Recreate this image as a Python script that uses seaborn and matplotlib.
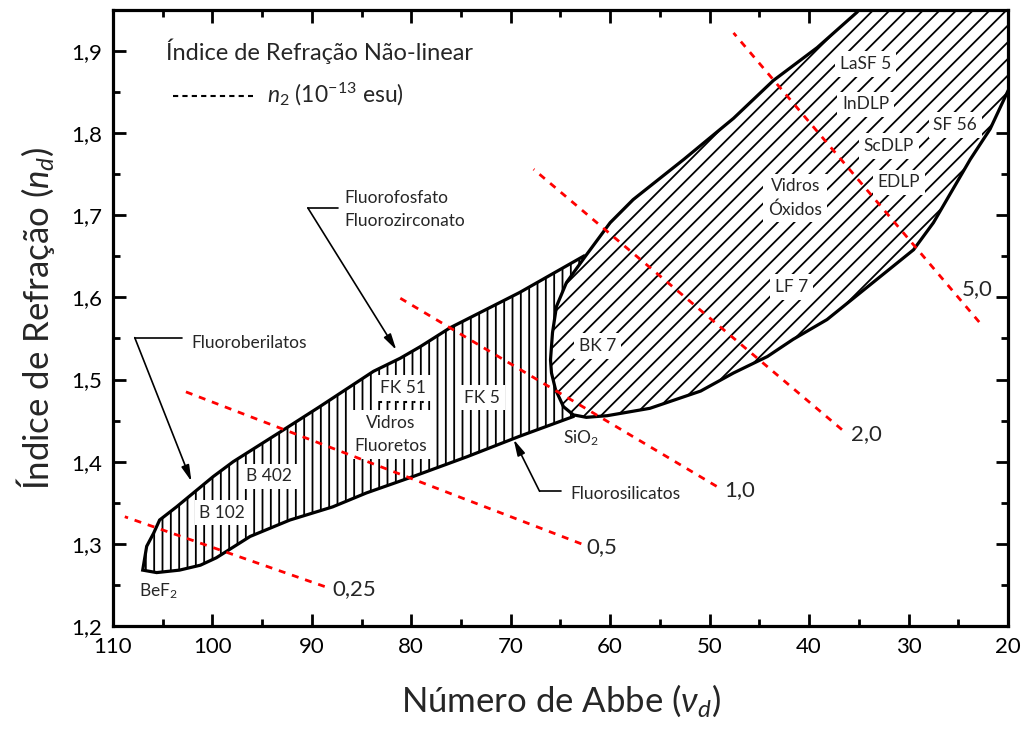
import matplotlib
matplotlib.use("Agg")
import matplotlib.pyplot as plt
import seaborn as sns
import numpy as np
import pandas as pd
from matplotlib.ticker import MultipleLocator

# contorno da regiao dos vidros fluoretos (numero de Abbe, n_d)
fluor_abbe = [105.3, 103.6, 101.9, 99.9, 97.9, 93.2, 89.2, 83.8, 81.1, 79.1, 76.1, 69.1, 62.7,
              62.0, 62.5, 63.7,
              69.1, 74.4, 79.8, 84.5, 87.9, 92.2, 96.2, 99.6, 101.2, 103.3, 105.6, 107.0,
              106.6, 105.9]
fluor_nd = [1.329, 1.345, 1.362, 1.382, 1.400, 1.436, 1.467, 1.510, 1.526, 1.540, 1.563, 1.606, 1.650,
            1.600, 1.500, 1.455,
            1.431, 1.406, 1.382, 1.362, 1.345, 1.329, 1.309, 1.283, 1.274, 1.268, 1.265, 1.268,
            1.297, 1.313]

# contorno da regiao dos vidros oxidos
oxide_abbe = [33.5, 35.2, 39.2, 43.6, 47.6, 52.6, 57.7, 60.0, 62.5, 64.4, 65.4, 65.8, 66.0,
              65.9, 65.5, 64.7, 63.7, 62.4, 60.3, 56.0, 50.9, 47.6, 44.2, 41.6, 38.2,
              29.5, 27.5, 23.8, 21.8, 20.1, 18.5, 15.0, 15.0]
oxide_nd = [1.970, 1.947, 1.904, 1.864, 1.818, 1.768, 1.719, 1.691, 1.650, 1.618, 1.589, 1.557,
            1.524, 1.508, 1.488, 1.467, 1.457, 1.454, 1.456, 1.465, 1.486, 1.508, 1.528, 1.549,
            1.573, 1.658, 1.691, 1.768, 1.805, 1.849, 1.890, 1.990, 2.050]

# linhas de n2 constante (10^-13 esu)
n2_labels = ["0,25", "0,5", "1,0", "2,0", "5,0"]
n2_abbe_start = [108.8, 103.3, 81.1, 67.7, 47.6]
n2_nd_start = [1.333, 1.488, 1.599, 1.756, 1.922]
n2_abbe_end = [88.7, 62.9, 49.3, 36.7, 22.9]
n2_nd_end = [1.248, 1.300, 1.370, 1.439, 1.570]
n2_label_abbe = [85.7, 60.8, 47.0, 34.2, 23.1]
n2_label_nd = [1.245, 1.296, 1.365, 1.433, 1.610]

# nomes dos vidros
glass_names = ["LaSF 5", "InDLP", "ScDLP", "SF 56", "EDLP", "Vidros\nÓxidos", "LF 7", "BK 7",
               "FK 5", "FK 51", "Vidros\nFluoretos", "B 402", "B 102"]
glass_abbe = [34.3, 34.3, 32.0, 25.3, 31.0, 41.4, 41.8, 61.3, 72.9, 80.8, 82.1, 94.3, 99.0]
glass_nd = [1.884, 1.835, 1.784, 1.810, 1.740, 1.721, 1.613, 1.541, 1.478, 1.490, 1.433, 1.382, 1.338]

x_ticks = [110, 100, 90, 80, 70, 60, 50, 40, 30, 20]
x_tick_labels = ["110", "100", "90", "80", "70", "60", "50", "40", "30", "20"]
y_ticks = [1.2, 1.3, 1.4, 1.5, 1.6, 1.7, 1.8, 1.9]
y_tick_labels = ["1,2", "1,3", "1,4", "1,5", "1,6", "1,7", "1,8", "1,9"]

sns.set_theme(style="ticks")
plt.rcParams["font.family"] = ["Lato", "DejaVu Sans"]
plt.rcParams["mathtext.fontset"] = "custom"
plt.rcParams["mathtext.rm"] = "Lato"
plt.rcParams["mathtext.it"] = "Lato:italic"
plt.rcParams["hatch.linewidth"] = 1.3

fig = plt.figure(figsize=(10.26, 7.33), dpi=100)
ax = fig.add_axes([0.110, 0.146, 0.8725, 0.8405])

# regioes hachuradas
ax.fill(fluor_abbe, fluor_nd, facecolor="white", edgecolor="black", hatch="||",
        linewidth=2.3, zorder=2)
ax.fill(oxide_abbe, oxide_nd, facecolor="white", edgecolor="black", hatch="//",
        linewidth=2.3, zorder=3)

# linhas de n2
for i in range(len(n2_labels)):
    seg = pd.DataFrame({"abbe": [n2_abbe_start[i], n2_abbe_end[i]],
                        "nd": [n2_nd_start[i], n2_nd_end[i]]})
    sns.lineplot(data=seg, x="abbe", y="nd", ax=ax, color="red", linewidth=2,
                 dashes=False, linestyle=(0, (2.5, 2.5)), zorder=5)
    ax.text(n2_label_abbe[i], n2_label_nd[i], n2_labels[i], fontsize=16,
            ha="center", va="center", zorder=6)

for name, xa, yn in zip(glass_names, glass_abbe, glass_nd):
    ax.text(xa, yn, name, fontsize=12.5, ha="center", va="center", linespacing=1.5,
            bbox=dict(facecolor="white", edgecolor="none", pad=3.5), zorder=4)

ax.plot([83.1, 78.4], [1.473, 1.473], color="black", linestyle=(0, (1, 3)),
        linewidth=1.5, zorder=5)
ax.text(105.4, 1.242, "BeF$_2$", fontsize=12.5, ha="center", va="center")
ax.text(62.9, 1.429, "SiO$_2$", fontsize=12.5, ha="center", va="center", zorder=6)

# setas
arrow = dict(arrowstyle="-|>,head_length=0.8,head_width=0.2", color="black", lw=1.2,
             shrinkA=0, shrinkB=0)
ax.plot([103.0, 107.8], [1.551, 1.551], color="black", lw=1.2)
ax.annotate("", xy=(102.1, 1.376), xytext=(107.8, 1.551), arrowprops=arrow)
ax.text(102.1, 1.545, "Fluoroberilatos", fontsize=12.5, ha="left", va="center")

ax.plot([87.4, 90.4], [1.709, 1.709], color="black", lw=1.2)
ax.annotate("", xy=(81.5, 1.536), xytext=(90.4, 1.709), arrowprops=arrow)
ax.text(86.7, 1.707, "Fluorofosfato\nFluorozirconato", fontsize=12.5, ha="left",
        va="center", linespacing=1.55)

ax.plot([64.9, 67.1], [1.364, 1.364], color="black", lw=1.2)
ax.annotate("", xy=(69.7, 1.427), xytext=(67.1, 1.364), arrowprops=arrow)
ax.text(64.0, 1.361, "Fluorosilicatos", fontsize=12.5, ha="left", va="center")

# legenda
ax.text(104.7, 1.900, "Índice de Refração Não-linear", fontsize=17, ha="left", va="center")
ax.plot([104.0, 95.9], [1.845, 1.845], color="black", lw=1.5, linestyle=(0, (2.5, 2)))
ax.text(94.5, 1.847, r"$n_2$ (10$^{-13}$ esu)", fontsize=16.5, ha="left", va="center")

ax.set_xlim(110, 20)
ax.set_ylim(1.2, 1.95)
ax.set_xticks(x_ticks)
ax.set_xticklabels(x_tick_labels)
ax.set_yticks(y_ticks)
ax.set_yticklabels(y_tick_labels)
ax.xaxis.set_minor_locator(MultipleLocator(5))
ax.yaxis.set_minor_locator(MultipleLocator(0.05))
ax.tick_params(which="both", direction="in", top=True, right=True, width=2,
               labelsize=16, colors="black")
ax.tick_params(which="major", length=9, pad=8)
ax.tick_params(which="minor", length=5)
for s in ax.spines.values():
    s.set_linewidth(2.3)
    s.set_color("black")
    s.set_zorder(10)

ax.set_xlabel(r"Número de Abbe ($\nu_d$)", fontsize=25, labelpad=18)
ax.set_ylabel(r"Índice de Refração ($n_d$)", fontsize=25, labelpad=10)

fig.savefig("out.png", dpi=100)
